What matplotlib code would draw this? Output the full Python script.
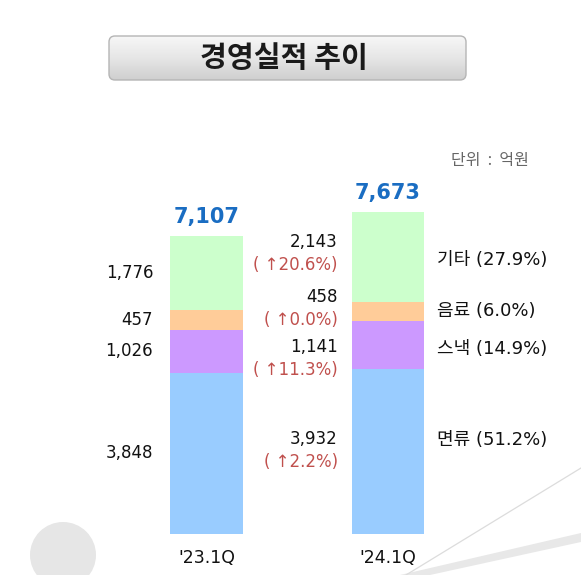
import numpy as np
import matplotlib
matplotlib.use('Agg')
import matplotlib.pyplot as plt
from matplotlib.patches import FancyBboxPatch, Circle, Polygon

plt.rcParams['font.family'] = ['DejaVu Sans', 'Noto Sans CJK KR']

# data (억원), stacked bottom -> top
periods = ["'23.1Q", "'24.1Q"]
segments = ['면류', '스낵', '음료', '기타']
q23 = [3848, 1026, 457, 1776]
q24 = [3932, 1141, 458, 2143]
totals = [7107, 7673]
growth = ['2.2%', '11.3%', '0.0%', '20.6%']
share = ['51.2%', '14.9%', '6.0%', '27.9%']
colors = ['#99CCFF', '#CC99FF', '#FFCC99', '#CCFFCC']

W, H = 581, 575
fig = plt.figure(figsize=(W / 100, H / 100), dpi=100)

# background / decoration axes in pixel coords
deco = fig.add_axes([0, 0, 1, 1])
deco.set_xlim(0, W)
deco.set_ylim(H, 0)
deco.axis('off')

deco.add_patch(Circle((63, 555), 33, color='#e6e6e6', lw=0))
deco.plot([406, 581], [575, 468], color='#dcdcdc', lw=0.9)
deco.add_patch(Polygon([(400, 575), (581, 533), (581, 542), (430, 575)],
                       closed=True, color='#e8e8e8', lw=0))

# title box with gradient
box = FancyBboxPatch((109, 36), 357, 44, boxstyle='round,pad=0,rounding_size=6',
                     fc='none', ec='#b5b5b5', lw=1.0, zorder=3)
deco.add_patch(box)
grad = np.linspace(0, 1, 100).reshape(-1, 1)
im = deco.imshow(grad, cmap=matplotlib.colors.LinearSegmentedColormap.from_list(
    'g', ['#f7f7f7', '#e6e6e6', '#cfcfcf']), extent=(109, 466, 80, 36),
    aspect='auto', zorder=2)
im.set_clip_path(box)
deco.text(284, 58, '경영실적 추이', ha='center', va='center', fontsize=21,
          family=['Noto Sans CJK KR'], weight='bold', color='#1a1a1a', zorder=4)

deco.text(490, 160, '단위  :  억원', ha='center', va='center', fontsize=11.5,
          family=['Noto Sans CJK KR'], color='#666666')

# bar axes
px_per_unit_y = 0.04195
bar_bottom_px = 534
ax = fig.add_axes([0, 0, 1, 1], facecolor='none')
ax.set_ylim(-(H - bar_bottom_px) / px_per_unit_y, bar_bottom_px / px_per_unit_y)
x0, dx = 206.5, 181.5
ax.set_xlim(-x0 / dx, (W - x0) / dx)
ax.axis('off')

width = 0.4
pt = 0.72  # px -> points
for i, vals in enumerate([q23, q24]):
    bottoms = np.concatenate([[0], np.cumsum(vals)[:-1]])
    ax.bar([i] * len(vals), vals, width=width, bottom=bottoms, color=colors, lw=0)
    ax.annotate(f'{totals[i]:,}', (i, sum(vals)), xytext=(0, 19 * pt),
                textcoords='offset points', ha='center', va='center',
                fontsize=15, weight='bold', color='#1A6DC2')
    ax.annotate(periods[i], (i, 0), xytext=(0, -24 * pt), textcoords='offset points',
                ha='center', va='center', fontsize=12.5, color='#111111')

# left labels for '23
b1 = np.concatenate([[0], np.cumsum(q23)[:-1]])
for v, b in zip(q23, b1):
    ax.annotate(f'{v:,}', (-width / 2, b + v / 2), xytext=(-17 * pt, 0),
                textcoords='offset points', ha='right', va='center',
                fontsize=12, color='#111111')

# labels between bars for '24 with growth
b2 = np.concatenate([[0], np.cumsum(q24)[:-1]])
pair_shift = [-13, 2, -15, -15]
cat_shift = [-12, 4, -1, 3]
for v, b, g, s, n, ps, cs in zip(q24, b2, growth, share, segments, pair_shift, cat_shift):
    mid = b + v / 2
    ax.annotate(f'{v:,}', (1 - width / 2, mid), xytext=(-14 * pt, -ps * pt),
                textcoords='offset points', ha='right', va='center',
                fontsize=12, color='#111111')
    ax.annotate(f'( ↑{g})', (1 - width / 2, mid), xytext=(-14 * pt, -(ps + 23) * pt),
                textcoords='offset points', ha='right', va='center',
                fontsize=12, color='#C0504D')
    ax.annotate(f'{n} ({s})', (1 + width / 2, mid), xytext=(13 * pt, -cs * pt),
                textcoords='offset points', ha='left', va='center',
                fontsize=13, color='#111111')

fig.savefig('out.png', dpi=100)
